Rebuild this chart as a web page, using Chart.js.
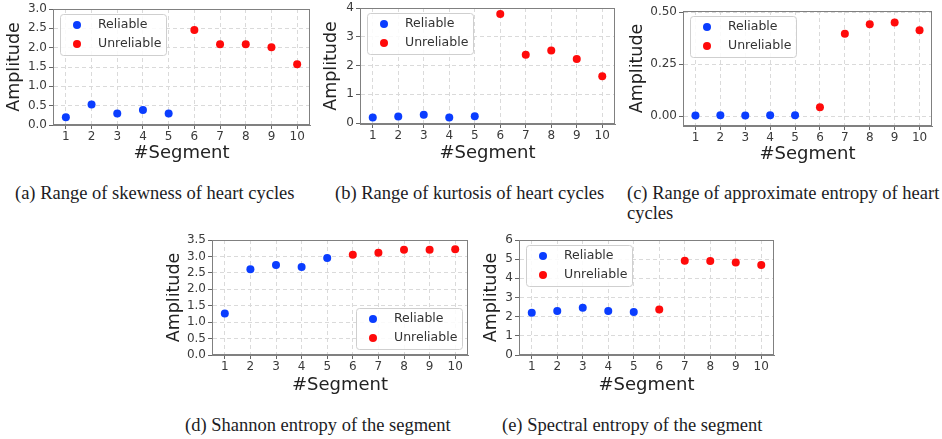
<!DOCTYPE html>
<html>
<head>
<meta charset="utf-8">
<script src="https://cdn.jsdelivr.net/npm/chart.js@4.4.1/dist/chart.umd.min.js"></script>
<style>
  body { margin: 0; background: #fff; width: 942px; height: 439px; position: relative; overflow: hidden; }
  canvas { position: absolute; }
  .cap { position: absolute; font-family: 'Liberation Serif', serif; font-size: 18.5px; line-height: 20px; color: #1c1c24; white-space: nowrap; }
</style>
</head>
<body>
<canvas id="chartA"></canvas>
<canvas id="chartB"></canvas>
<canvas id="chartC"></canvas>
<canvas id="chartD"></canvas>
<canvas id="chartE"></canvas>

<div class="cap" style="left:15px; top:183px">(a) Range of skewness of heart cycles</div>
<div class="cap" style="left:335px; top:183px">(b) Range of kurtosis of heart cycles</div>
<div class="cap" style="left:627px; top:183px">(c) Range of approximate entropy of heart<br>cycles</div>
<div class="cap" style="left:185px; top:415px">(d) Shannon entropy of the segment</div>
<div class="cap" style="left:502px; top:415px">(e) Spectral entropy of the segment</div>

<script>
// data
const segments = [1, 2, 3, 4, 5, 6, 7, 8, 9, 10];
const reliableSegments = [1, 2, 3, 4, 5];
const seriesLabels = ['Reliable', 'Unreliable'];

const skewness = [0.20, 0.53, 0.30, 0.39, 0.30, 2.46, 2.09, 2.09, 2.01, 1.57];
const kurtosis = [0.20, 0.23, 0.29, 0.20, 0.24, 3.79, 2.38, 2.52, 2.23, 1.63];
const approxEntropy = [0.003, 0.005, 0.004, 0.005, 0.005, 0.043, 0.396, 0.442, 0.450, 0.413];
const shannonEntropy = [1.26, 2.61, 2.74, 2.68, 2.95, 3.05, 3.11, 3.20, 3.20, 3.22];
const spectralEntropy = [2.21, 2.30, 2.47, 2.30, 2.24, 2.37, 4.92, 4.90, 4.83, 4.70];

const ticksA = [0, 0.5, 1.0, 1.5, 2.0, 2.5, 3.0];
const ticksB = [0, 1, 2, 3, 4];
const ticksC = [0, 0.25, 0.5];
const ticksD = [0, 0.5, 1.0, 1.5, 2.0, 2.5, 3.0, 3.5];
const ticksE = [0, 1, 2, 3, 4, 5, 6];

const BLUE = '#0a3dff';
const RED = '#ff0a0a';
const FONT = 'DejaVu Sans';

// frame around the plot + legend drawn inside the plot area
const framePlugin = {
    id: 'frameLegend',
    afterDraw(chart, args, opts) {
        const ctx = chart.ctx;
        const a = chart.chartArea;
        ctx.save();
        ctx.strokeStyle = '#808080';
        ctx.lineWidth = 1;
        ctx.strokeRect(a.left + 0.5, a.top + 0.5, a.right - a.left - 1, a.bottom - a.top - 1);

        const w = 106, h = 41;
        let x = a.left + 7, y = a.top + 5;
        if (opts.corner === 'br') {
            x = a.right - 6 - w;
            y = a.bottom - 6 - h;
        }
        ctx.beginPath();
        ctx.roundRect(x + 0.5, y + 0.5, w, h, 3);
        ctx.fillStyle = 'rgba(255,255,255,0.85)';
        ctx.fill();
        ctx.strokeStyle = '#cfcfcf';
        ctx.stroke();

        ctx.font = '12.5px "' + FONT + '"';
        ctx.textBaseline = 'middle';
        chart.data.datasets.forEach((ds, i) => {
            const cy = y + 11 + i * 19;
            ctx.beginPath();
            ctx.arc(x + 17, cy, 4, 0, Math.PI * 2);
            ctx.fillStyle = ds.backgroundColor;
            ctx.fill();
            ctx.fillStyle = '#333';
            ctx.fillText(ds.label, x + 38, cy);
        });
        ctx.restore();
    }
};

function makeChart(id, cfg) {
    const padTop = 10, padRight = 10;
    const wy = cfg.yTitleOff + 9;
    const hx = cfg.xTitleOff + 9;
    const canvas = document.getElementById(id);
    canvas.width = wy + cfg.w + padRight;
    canvas.height = padTop + cfg.h + hx;
    canvas.style.left = (cfg.l - wy) + 'px';
    canvas.style.top = (cfg.t - padTop) + 'px';

    const points = (reliable) => segments
        .map((s, i) => ({ x: s, y: cfg.values[i] }))
        .filter(p => reliableSegments.includes(p.x) === reliable);

    new Chart(canvas, {
        type: 'scatter',
        data: {
            datasets: [
                { label: seriesLabels[0], data: points(true), backgroundColor: BLUE, borderWidth: 0, pointRadius: 4 },
                { label: seriesLabels[1], data: points(false), backgroundColor: RED, borderWidth: 0, pointRadius: 4 }
            ]
        },
        options: {
            responsive: false,
            animation: false,
            layout: { padding: { top: padTop, right: padRight, left: 0, bottom: 0 } },
            plugins: {
                legend: { display: false },
                tooltip: { enabled: false },
                frameLegend: { corner: cfg.corner || 'tl' }
            },
            scales: {
                x: {
                    type: 'linear',
                    min: 0.5,
                    max: 10.5,
                    afterBuildTicks: s => { s.ticks = segments.map(v => ({ value: v })); },
                    afterFit: s => { s.height = hx; },
                    ticks: { font: { family: FONT, size: 12 }, color: '#3a3a3a', padding: 1, maxRotation: 0, autoSkip: false },
                    grid: { color: '#dadada', tickLength: 4, tickColor: '#666' },
                    border: { color: '#808080', dash: [4, 3] },
                    title: { display: true, text: '#Segment', color: '#222', padding: 0, font: { family: FONT, size: 18, lineHeight: 1 } }
                },
                y: {
                    type: 'linear',
                    min: cfg.yMin,
                    max: cfg.yMax,
                    afterBuildTicks: s => { s.ticks = cfg.ticks.map(v => ({ value: v })); },
                    afterFit: s => { s.width = wy; },
                    ticks: { font: { family: FONT, size: 12 }, color: '#3a3a3a', padding: 2, autoSkip: false, callback: v => v.toFixed(cfg.dec) },
                    grid: { color: '#dadada', tickLength: 4, tickColor: '#666' },
                    border: { color: '#808080', dash: [4, 3] },
                    title: { display: true, text: 'Amplitude', color: '#222', padding: 0, font: { family: FONT, size: 17.5, lineHeight: 1 } }
                }
            }
        },
        plugins: [framePlugin]
    });
}

makeChart('chartA', { l: 53, t: 9, w: 257, h: 116, yTitleOff: 38, xTitleOff: 28, yMin: 0, yMax: 3, ticks: ticksA, dec: 1, values: skewness });
makeChart('chartB', { l: 360, t: 8, w: 255, h: 116, yTitleOff: 28, xTitleOff: 29, yMin: -0.03, yMax: 4, ticks: ticksB, dec: 0, values: kurtosis });
makeChart('chartC', { l: 683, t: 11, w: 249, h: 115, yTitleOff: 45, xTitleOff: 28, yMin: -0.047, yMax: 0.505, ticks: ticksC, dec: 2, values: approxEntropy });
makeChart('chartD', { l: 212, t: 240, w: 256, h: 115, yTitleOff: 37, xTitleOff: 30, yMin: 0, yMax: 3.5, ticks: ticksD, dec: 1, values: shannonEntropy, corner: 'br' });
makeChart('chartE', { l: 519, t: 240, w: 255, h: 115, yTitleOff: 27, xTitleOff: 30, yMin: 0, yMax: 6, ticks: ticksE, dec: 0, values: spectralEntropy });
</script>
</body>
</html>
